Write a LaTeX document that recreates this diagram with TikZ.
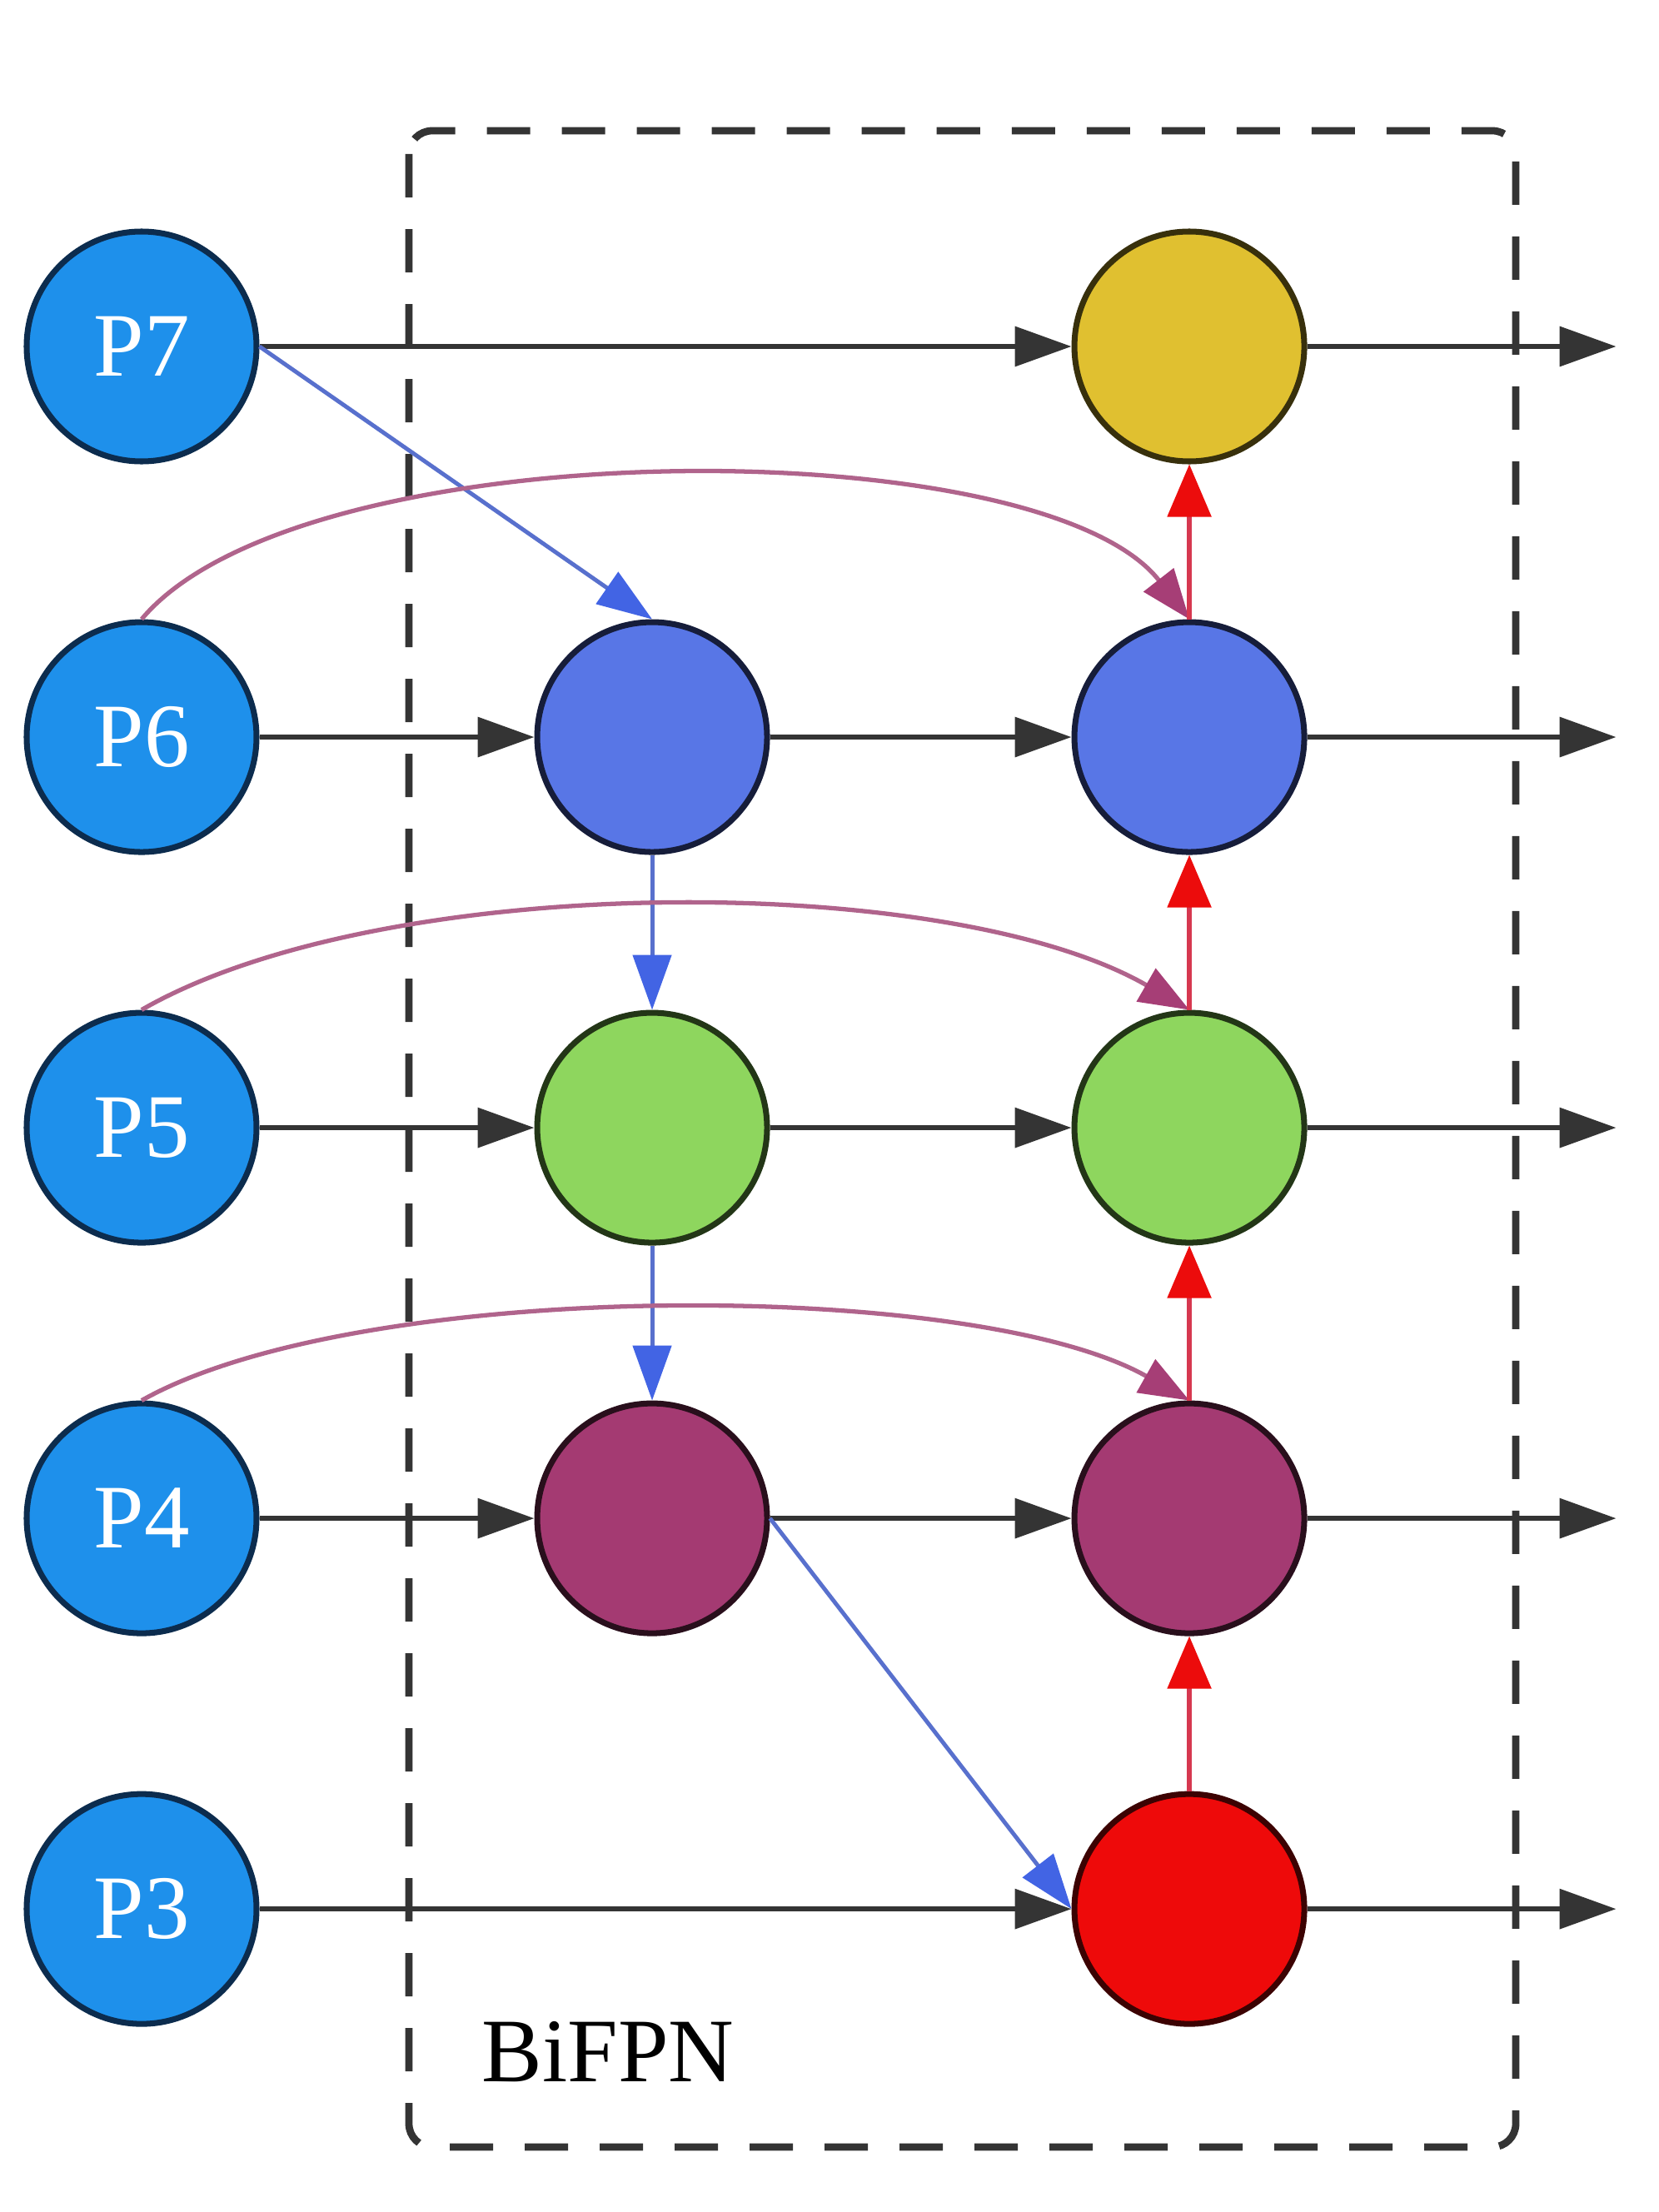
\documentclass[tikz,border=0pt]{standalone}
\usepackage{fontspec}
\setmainfont{Liberation Serif}
\usepackage{xcolor}
\usetikzlibrary{arrows.meta,positioning}

\definecolor{inblue}{RGB}{30,144,235}
\definecolor{inborder}{RGB}{12,44,78}
\definecolor{midblue}{RGB}{88,118,230}
\definecolor{midgreen}{RGB}{142,214,94}
\definecolor{midpurple}{RGB}{164,58,114}
\definecolor{outyellow}{RGB}{224,192,48}
\definecolor{outred}{RGB}{238,10,10}
\definecolor{linegray}{RGB}{52,52,52}
\definecolor{downline}{RGB}{88,112,205}
\definecolor{downtip}{RGB}{66,100,228}
\definecolor{skipline}{RGB}{176,100,140}
\definecolor{skiptip}{RGB}{166,62,118}
\definecolor{upline}{RGB}{214,56,80}
\definecolor{uptip}{RGB}{236,12,12}

\begin{document}
\begin{tikzpicture}[
    incircle/.style={
    circle,
    draw=inborder,
    fill=inblue,
    line width=2pt,
    inner sep=0pt,
    minimum size=2.76cm,
    text=white,
    font=\fontsize{31}{37}\selectfont},
    fusecircle/.style={
    circle,
    draw=#1!25!black,
    fill=#1,
    line width=2pt,
    inner sep=0pt,
    minimum size=2.76cm},
    flowarrow/.style={-{Triangle[length=0.68cm,width=0.47cm]},draw=linegray,line width=1.9pt},
    downarrow/.style={-{Triangle[length=0.66cm,width=0.46cm,color=downtip]},draw=downline,line width=1.4pt},
    uparrow/.style={-{Triangle[length=0.63cm,width=0.52cm,color=uptip]},draw=upline,line width=1.6pt},
    skiparrow/.style={-{Triangle[length=0.6cm,width=0.45cm,color=skiptip]},draw=skipline,line width=1.5pt},
    bifpnbox/.style={draw=linegray,line width=2.5pt,rounded corners=0.28cm,dash pattern=on 0.52cm off 0.38cm},
    node distance=1.86cm and 3.30cm
    ]
    \useasboundingbox (0,0) rectangle (19.92,-26.56);

    \draw[bifpnbox] (4.91,-1.57) rectangle (18.20,-25.78);
    \node[anchor=base west, inner sep=0pt, font=\fontsize{31}{37}\selectfont] (title) at (5.78,-24.99) {BiFPN};

    \node[incircle] (p7) at (1.70,-4.16) {P7};
    \node[incircle, below=of p7] (p6) {P6};
    \node[incircle, below=of p6] (p5) {P5};
    \node[incircle, below=of p5] (p4) {P4};
    \node[incircle, below=of p4] (p3) {P3};

    \node[fusecircle=midblue, right=of p6] (m6) {};
    \node[fusecircle=midgreen, below=of m6] (m5) {};
    \node[fusecircle=midpurple, below=of m5] (m4) {};

    \node[fusecircle=midblue, right=3.62cm of m6] (r6) {};
    \node[fusecircle=outyellow, above=of r6] (r7) {};
    \node[fusecircle=midgreen, below=of r6] (r5) {};
    \node[fusecircle=midpurple, below=of r5] (r4) {};
    \node[fusecircle=outred, below=of r4] (r3) {};

    \coordinate[right=3.71cm of r7] (o7);
    \coordinate[right=3.71cm of r6] (o6);
    \coordinate[right=3.71cm of r5] (o5);
    \coordinate[right=3.71cm of r4] (o4);
    \coordinate[right=3.71cm of r3] (o3);

    \draw[flowarrow] (p7) -- (r7);
    \draw[flowarrow] (p6) -- (m6);
    \draw[flowarrow] (m6) -- (r6);
    \draw[flowarrow] (p5) -- (m5);
    \draw[flowarrow] (m5) -- (r5);
    \draw[flowarrow] (p4) -- (m4);
    \draw[flowarrow] (m4) -- (r4);
    \draw[flowarrow] (p3) -- (r3);

    \draw[flowarrow] (r7) -- (o7);
    \draw[flowarrow] (r6) -- (o6);
    \draw[flowarrow] (r5) -- (o5);
    \draw[flowarrow] (r4) -- (o4);
    \draw[flowarrow] (r3) -- (o3);

    \draw[downarrow] (p7.east) -- (m6.north);
    \draw[downarrow] (m6) -- (m5);
    \draw[downarrow] (m5) -- (m4);
    \draw[downarrow] (m4.east) -- (r3.west);

    \draw[skiparrow] (p6.north) .. controls +(1.92,2.29) and +(-1.79,2.29) .. (r6.north);
    \draw[skiparrow] (p5.north) .. controls +(2.9,1.67) and +(-2.9,1.67) .. (r5.north);
    \draw[skiparrow] (p4.north) .. controls +(2.6,1.47) and +(-2.6,1.47) .. (r4.north);

    \draw[uparrow] (r3) -- (r4);
    \draw[uparrow] (r4) -- (r5);
    \draw[uparrow] (r5) -- (r6);
    \draw[uparrow] (r6) -- (r7);
\end{tikzpicture}
\end{document}
